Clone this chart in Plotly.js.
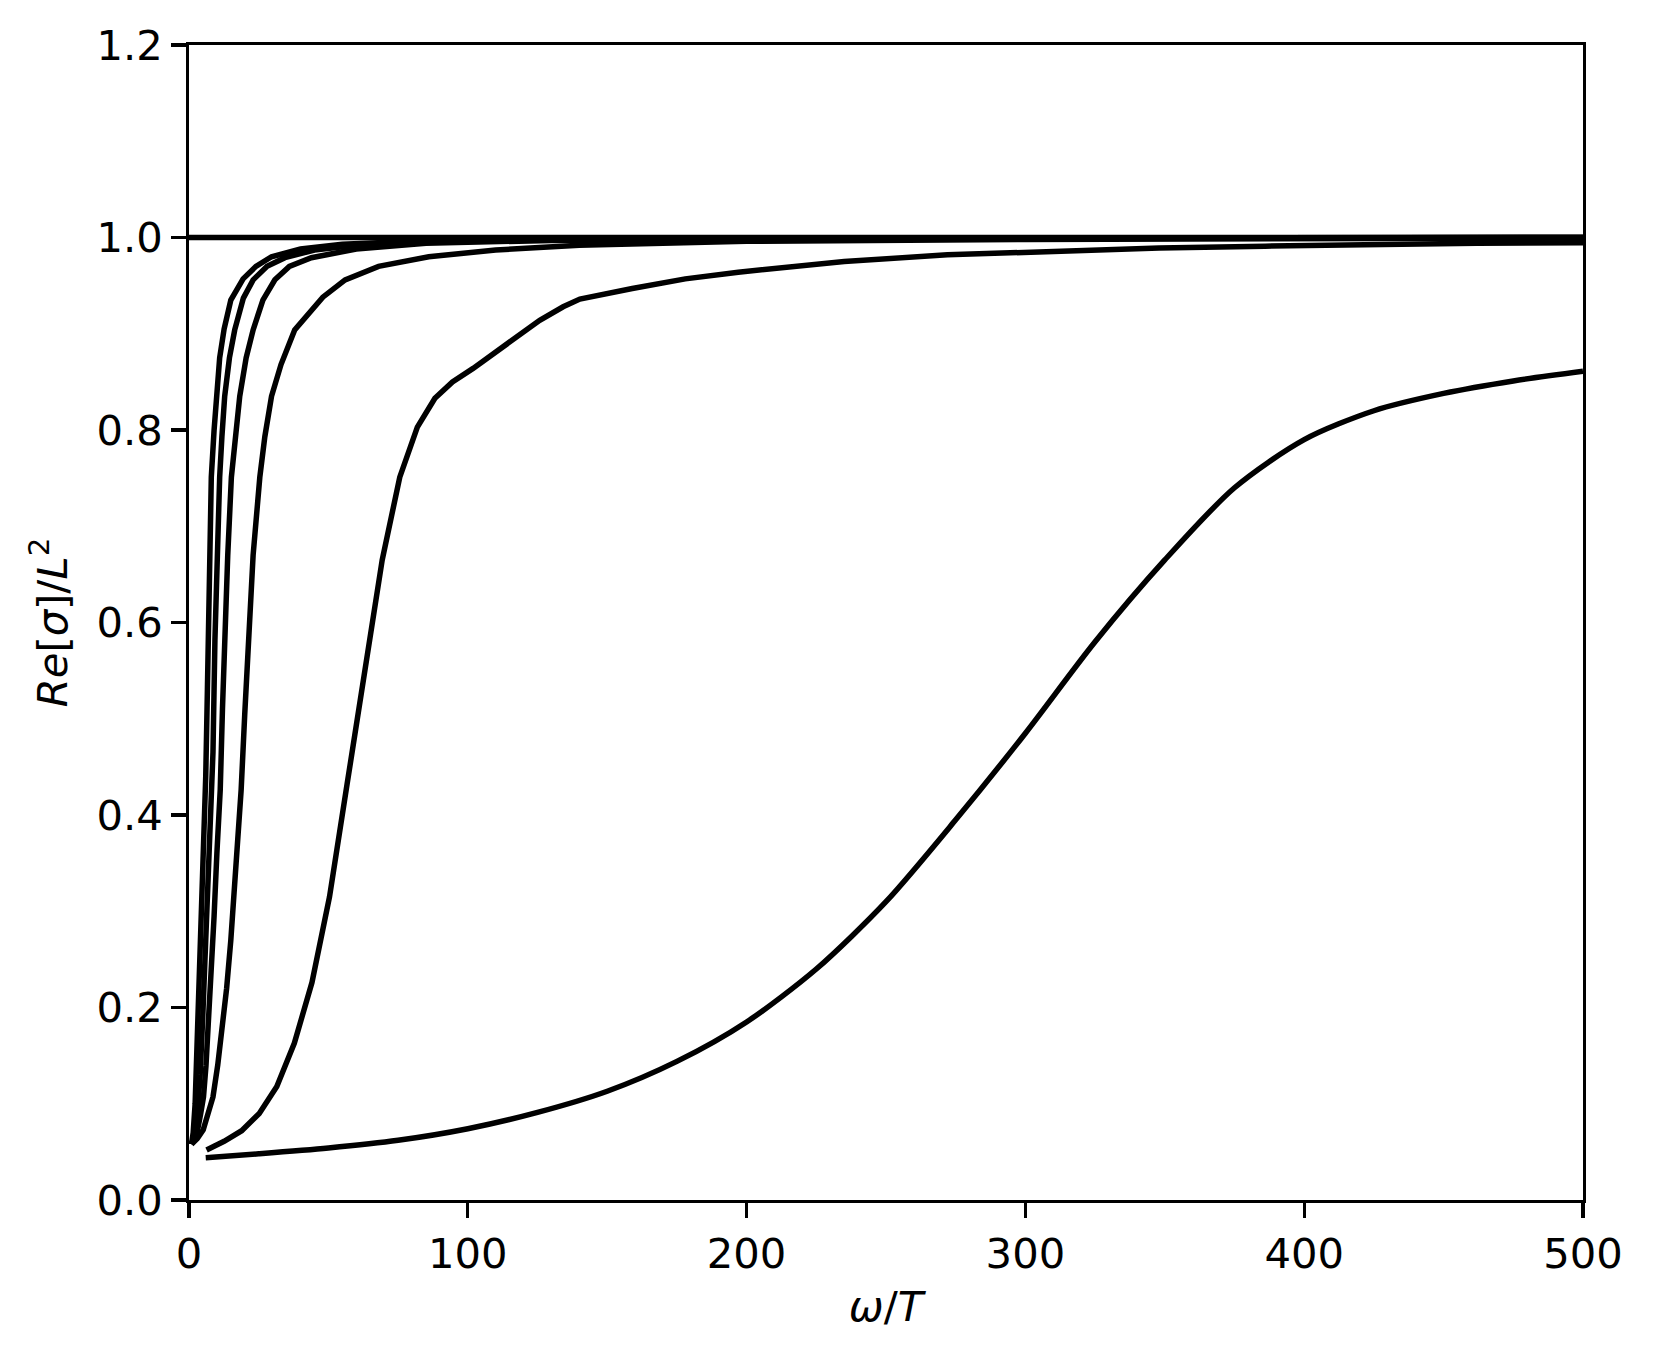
<!DOCTYPE html>
<html>
<head>
<meta charset="utf-8">
<script src="https://cdn.plot.ly/plotly-3.0.1.min.js"></script>
<style>
html, body { margin: 0; padding: 0; background: #ffffff; }
#chart { width: 1654px; height: 1356px; }
</style>
</head>
<body>
<div id="chart"></div>
<script>
// Reference line at 1.0
var flatX = [0, 500];
var flatY = [1.0, 1.0];

// Curve A (steepest)
var aX = [0.9, 1.5, 2.2, 3.0, 3.8, 4.6, 5.4, 6.0, 6.6, 7.2, 8.0, 9.0, 9.8, 11.0, 12.6, 15.0, 19.4, 24, 29.6, 40, 55, 80, 120, 200, 350, 500];
var aY = [0.058, 0.070, 0.100, 0.170, 0.240, 0.310, 0.380, 0.440, 0.530, 0.640, 0.751, 0.800, 0.838, 0.875, 0.905, 0.935, 0.957, 0.970, 0.980, 0.988, 0.993, 0.996, 0.998, 0.999, 0.9997, 1.0];

// Curve B
var bX = [0.9, 2, 3, 4, 5, 6, 7, 8, 8.6, 9.3, 10.1, 11.0, 11.8, 12.8, 14.5, 16.4, 19.5, 23, 28, 34.4, 45, 60, 90, 140, 250, 500];
var bY = [0.058, 0.068, 0.090, 0.130, 0.195, 0.265, 0.335, 0.395, 0.465, 0.582, 0.680, 0.751, 0.793, 0.835, 0.875, 0.904, 0.937, 0.956, 0.970, 0.979, 0.987, 0.992, 0.996, 0.998, 0.9993, 1.0];

// Curve C
var cX = [0.9, 2, 3.1, 4.2, 5.2, 6.1, 6.9, 8, 9, 10, 11.2, 12, 12.7, 13.9, 15.2, 16.6, 18.2, 20.5, 23.0, 26.5, 30.8, 36, 43.9, 60, 85, 130, 200, 350, 500];
var cY = [0.058, 0.064, 0.073, 0.090, 0.107, 0.140, 0.177, 0.235, 0.295, 0.360, 0.426, 0.510, 0.582, 0.670, 0.751, 0.793, 0.835, 0.875, 0.904, 0.935, 0.956, 0.970, 0.979, 0.988, 0.994, 0.997, 0.998, 0.9993, 1.0];

// Curve D
var dX = [0.9, 3, 5.1, 7, 8.6, 10.3, 11.9, 13.5, 15, 16.8, 18.7, 20, 21.2, 23, 25.4, 27.2, 29.6, 33, 37.9, 42, 48, 56, 68, 86, 110, 140, 200, 300, 400, 500];
var dY = [0.058, 0.064, 0.073, 0.090, 0.107, 0.140, 0.177, 0.220, 0.270, 0.340, 0.426, 0.505, 0.582, 0.670, 0.751, 0.793, 0.835, 0.868, 0.904, 0.918, 0.938, 0.956, 0.970, 0.980, 0.987, 0.992, 0.996, 0.998, 0.999, 0.9995];

// Curve E
var eX = [6.3, 12.6, 18.9, 25.2, 31.5, 37.8, 44.1, 50.4, 56.7, 63.0, 69.3, 75.6, 81.9, 88.2, 94.5, 101.9, 116.3, 125.8, 134.2, 140.2, 159, 178, 197, 235, 272, 310, 348, 386, 424, 462, 500];
var eY = [0.052, 0.061, 0.072, 0.090, 0.118, 0.163, 0.226, 0.315, 0.432, 0.551, 0.665, 0.751, 0.803, 0.833, 0.850, 0.864, 0.894, 0.914, 0.928, 0.936, 0.947, 0.957, 0.964, 0.975, 0.982, 0.986, 0.989, 0.991, 0.993, 0.994, 0.9945];

// Curve F (slowest)
var fX = [6, 25, 50, 75, 100, 125, 150, 175, 200, 225, 250, 275, 300, 325, 350, 375, 400, 425, 450, 475, 500];
var fY = [0.044, 0.048, 0.054, 0.062, 0.074, 0.091, 0.113, 0.144, 0.185, 0.240, 0.310, 0.395, 0.485, 0.580, 0.665, 0.740, 0.790, 0.820, 0.838, 0.851, 0.861];

var xTicks = [0, 100, 200, 300, 400, 500];
var xTickText = ['0', '100', '200', '300', '400', '500'];
var yTicks = [0.0, 0.2, 0.4, 0.6, 0.8, 1.0, 1.2];
var yTickText = ['0.0', '0.2', '0.4', '0.6', '0.8', '1.0', '1.2'];

var LW = 5.5;
function mk(x, y, shape) {
  return {x: x, y: y, mode: 'lines', type: 'scatter',
          line: {color: '#000000', width: LW, shape: shape || 'linear', smoothing: 0.8},
          hoverinfo: 'skip', showlegend: false};
}

var traces = [
  mk(flatX, flatY),
  mk(aX, aY),
  mk(bX, bY),
  mk(cX, cY),
  mk(dX, dY),
  mk(eX, eY),
  mk(fX, fY, 'spline')
];

var FONT = 'DejaVu Sans';
var FS = 41.7;

var layout = {
  width: 1654,
  height: 1356,
  paper_bgcolor: '#ffffff',
  plot_bgcolor: '#ffffff',
  margin: {l: 189, r: 71, t: 45, b: 156, pad: 0},
  showlegend: false,
  xaxis: {
    range: [0, 500],
    tickvals: xTicks,
    ticktext: xTickText,
    ticks: 'outside',
    ticklen: 14.6,
    tickwidth: 3.3,
    tickcolor: '#000000',
    showline: true,
    linecolor: '#000000',
    linewidth: 3.3,
    mirror: true,
    showgrid: false,
    zeroline: false,
    tickfont: {family: FONT, size: FS, color: '#000000'},
    title: {text: '<i>ω</i>/<i>T</i>', font: {family: FONT, size: FS, color: '#000000'}, standoff: 16}
  },
  yaxis: {
    range: [0, 1.2],
    tickvals: yTicks,
    ticktext: yTickText,
    ticks: 'outside',
    ticklen: 14.6,
    tickwidth: 3.3,
    tickcolor: '#000000',
    showline: true,
    linecolor: '#000000',
    linewidth: 3.3,
    mirror: true,
    showgrid: false,
    zeroline: false,
    tickfont: {family: FONT, size: FS, color: '#000000'},
    title: {text: '<i>Re</i>[<i>σ</i>]/<i>L</i><sup>2</sup>', font: {family: FONT, size: FS, color: '#000000'}, standoff: 17}
  }
};

Plotly.newPlot('chart', traces, layout, {staticPlot: true, displayModeBar: false});
</script>
</body>
</html>
